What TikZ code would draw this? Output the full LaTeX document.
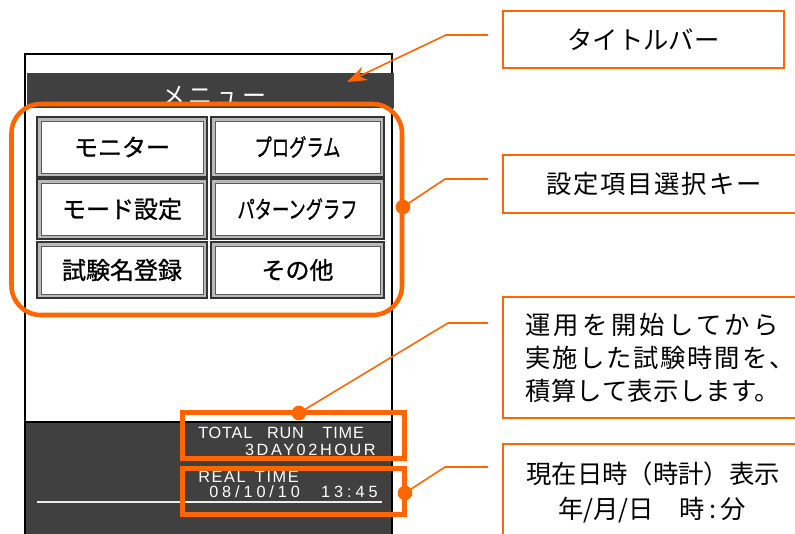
\documentclass[tikz,border=0pt]{standalone}
\usepackage{fontspec}
\setmainfont{Noto Sans CJK JP}
\newfontfamily\jpf{Noto Sans CJK JP}
\newfontfamily\jpb[FakeBold=1]{Noto Sans CJK JP}
\newfontfamily\lcdf{Liberation Sans}
\usetikzlibrary{arrows.meta}
\definecolor{org}{HTML}{FF6600}
\definecolor{lcdbg}{HTML}{404040}
\newcommand\mybtn[6]{%
  \fill[gray!55] (#1,#2) rectangle (#3,#4);
  \draw[black!80, line width=0.9pt] (#1,#2) rectangle (#3,#4);
  \draw[black!65, line width=0.6pt, fill=white] (#1+4,#2+4) rectangle (#3-4,#4-4);
  \node[btntext] (#5) at ({(#1+#3)/2},{(#2+#4)/2}) {#6};}
\begin{document}
\begin{tikzpicture}[x=0.75pt,y=-0.75pt,
  btntext/.style={inner sep=0pt, font=\jpb\fontsize{18pt}{20pt}\selectfont},
  hl/.style={draw=org, line width=3.4pt},
  leader/.style={draw=org, line width=1.2pt},
  dotc/.style={fill=org},
  callout/.style={draw=org, line width=1.4pt},
  calltext/.style={inner sep=0pt, font=\jpf\fontsize{19pt}{24.75pt}\selectfont},
  lcdtext/.style={inner sep=0pt, text=white, font=\lcdf\fontsize{12.2pt}{13pt}\selectfont}]
\clip (0,0) rectangle (795,533);
\fill[white] (0,0) rectangle (795,533);
% screen frame
\draw[black, line width=1.3pt, fill=white] (25,54) rectangle (392,545);
\fill[lcdbg] (25,422) rectangle (392,545);
\draw[black, line width=1.3pt] (25,422) -- (392,422);
\draw[black, line width=1.3pt] (25,54) -- (25,545) (392,54) -- (392,545);
% title bar
\fill[lcdbg] (27,73) rectangle (394,108);
\node[inner sep=0pt, text=white, font=\jpf\fontsize{18pt}{20pt}\selectfont] (menu) at (214,96) {\addfontfeature{LetterSpace=12}メニュー};
% buttons
\mybtn{37}{117}{207}{177}{b1}{モニター}
\mybtn{211}{117}{384}{177}{b2}{\scalebox{0.72}[1]{プログラム}}
\mybtn{37}{179}{207}{239}{b3}{モード設定}
\mybtn{211}{179}{384}{239}{b4}{\scalebox{0.72}[1]{パターングラフ}}
\mybtn{37}{242}{207}{298}{b5}{試験名登録}
\mybtn{211}{242}{384}{298}{b6}{その他}
% orange selection frame
\draw[hl, rounded corners=22pt] (11.5,104) rectangle (402,315);
% LCD texts
\node[lcdtext, anchor=base west] (total) at (198,438) {\addfontfeature{LetterSpace=5}TOTAL\hspace{11pt}RUN\hspace{14pt}TIME};
\node[lcdtext, anchor=base east] (days) at (376,455) {\addfontfeature{LetterSpace=16}3DAY02HOUR};
\node[lcdtext, anchor=base west] (real) at (198,482) {\addfontfeature{LetterSpace=10}REAL\hspace{7pt}TIME};
\node[lcdtext, anchor=base west] (clock) at (209,497) {\addfontfeature{LetterSpace=24}08/10/10\hspace{16pt}13:45};
\draw[white!85!gray, line width=0.8pt] (37,502) -- (382,502);
% orange highlight rectangles
\draw[hl] (182.5,412.5) rectangle (404.5,458.5);
\draw[hl] (182.5,468.5) rectangle (404.5,514.5);
% callout boxes
\node[callout, minimum width=210.75pt, minimum height=42.75pt, inner sep=0pt] (c1) at (643.5,39.5) {};
\node[calltext] (t1) at (643.5,40) {タイトルバー};
\draw[callout] (805,155) -- (503,155) -- (503,213) -- (805,213);
\node[calltext] (t2) at (654,184) {\addfontfeature{LetterSpace=7}設定項目選択キー};
\draw[callout] (805,297) -- (503,297) -- (503,418) -- (805,418);
\node[calltext, anchor=west, align=left] (t3) at (525,358) {{\addfontfeature{LetterSpace=13}運用を開始してから}\\{\addfontfeature{LetterSpace=7}実施した試験時間を、}\\{\addfontfeature{LetterSpace=2}積算して表示します。}};
\draw[callout] (805,444) -- (503,444) -- (503,545);
\node[calltext] (t4) at (653,474) {現在日時（時計）表示};
\node[calltext] (t5) at (652,510) {年/月/日　時\,:\,分};
% leader points
\coordinate (p1a) at (488,35);
\coordinate (p1b) at (446,35);
\coordinate (p1c) at (347,82);
\coordinate (p2a) at (488,179);
\coordinate (p2b) at (445,179);
\coordinate (d2) at (403,207);
\coordinate (p3a) at (488,323);
\coordinate (p3b) at (448,323);
\coordinate (d3) at (299,413);
\coordinate (p4a) at (488,467);
\coordinate (p4b) at (445,467);
\coordinate (d4) at (405,493);
% leaders
\draw[leader, -{Stealth[length=15pt, width=11pt, inset=5pt]}] (p1a) -- (p1b) -- (p1c);
\draw[leader] (p2a) -- (p2b) -- (d2);
\draw[leader] (p3a) -- (p3b) -- (d3);
\draw[leader] (p4a) -- (p4b) -- (d4);
\fill[dotc] (d2) circle (5.5pt);
\fill[dotc] (d3) circle (5.5pt);
\fill[dotc] (d4) circle (5.5pt);
\end{tikzpicture}
\end{document}
